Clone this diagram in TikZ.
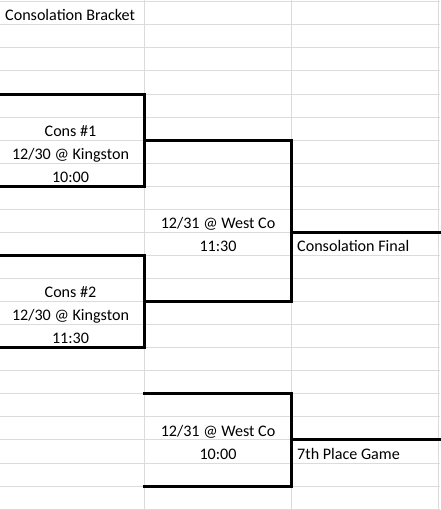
\documentclass[tikz,border=0pt]{standalone}
\usepackage{fontspec}
\setmainfont{Carlito}
\usetikzlibrary{positioning}

\begin{document}
\begin{tikzpicture}[x=1pt,y=-23.06pt,
 grid/.style={draw=black!14,line width=1pt},
 rule/.style={draw,line width=3pt,line cap=rect},
 cell/.style={anchor=base,inner sep=0pt,font=\fontsize{16.1}{19}\selectfont},
 lcell/.style={cell,anchor=base west}]
\useasboundingbox (0,-0.078) rectangle (440,22.038);
% sheet grid
\foreach \k in {0,...,22} \draw[grid] (0,\k)--(440,\k);
\foreach \c in {144.7,291.7,438.3} \draw[grid] (\c,-0.1)--(\c,22.1);
% cell texts
\node[lcell] (title) at (5,0.83) {Consolation Bracket};
\node[cell] (c1a) at (70.5,5.83) {Cons \#1};
\node[cell] (c1b) at (70.5,6.83) {12/30 @ Kingston};
\node[cell] (c1c) at (70.5,7.83) {10:00};
\node[cell] (c2a) at (70.5,12.83) {Cons \#2};
\node[cell] (c2b) at (70.5,13.83) {12/30 @ Kingston};
\node[cell] (c2c) at (70.5,14.83) {11:30};
\node[cell] (s1a) at (218,9.83) {12/31 @ West Co};
\node[cell] (s1b) at (218,10.83) {11:30};
\node[lcell] (fin) at (297,10.83) {Consolation Final};
\node[cell] (s2a) at (218,18.83) {12/31 @ West Co};
\node[cell] (s2b) at (218,19.83) {10:00};
\node[lcell] (sev) at (297,19.83) {7th Place Game};
% bracket joints
\coordinate (w1) at (144.7,6);
\coordinate (w2) at (144.7,13);
\coordinate (wf) at (291.7,10);
\coordinate (ws) at (291.7,19);
\draw[rule] (0,4) -| (144.7,8) -- (0,8);
\draw[rule] (0,11) -| (144.7,15) -- (0,15);
\draw[rule] (w1) -| (291.7,13) -- (w2);
\draw[rule] (144.7,17) -| (291.7,21) -- (144.7,21);
\draw[rule] (wf) -- (440,10);
\draw[rule] (ws) -- (440,19);
\end{tikzpicture}
\end{document}
